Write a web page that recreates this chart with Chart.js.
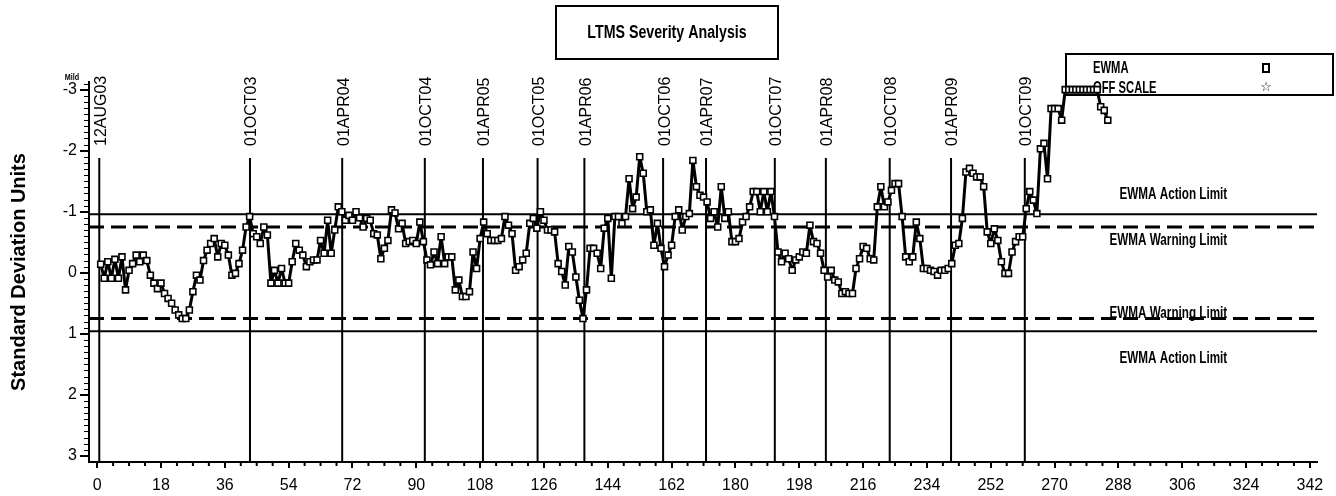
<!DOCTYPE html>
<html><head><meta charset="utf-8">
<script src="https://cdn.jsdelivr.net/npm/chart.js@4"></script>
<style>html,body{margin:0;padding:0;background:#fff;overflow:hidden}canvas{display:block}</style>
</head><body>
<canvas id="c" width="1336" height="496"></canvas>
<script>
// EWMA values (standard deviation units) for test sequence 1..285
const ewmaValues = [
  -0.14, 0.09, -0.18, 0.09, -0.22, 0.09, -0.26, 0.28, -0.04, -0.15,
  -0.29, -0.18, -0.29, -0.2, 0.04, 0.17, 0.26, 0.17, 0.34, 0.42,
  0.5, 0.61, 0.69, 0.75, 0.75, 0.61, 0.31, 0.04, 0.12, -0.2,
  -0.37, -0.48, -0.56, -0.26, -0.48, -0.45, -0.29, 0.04, 0.01, -0.15,
  -0.37, -0.75, -0.92, -0.64, -0.59, -0.48, -0.75, -0.62, 0.17, -0.04,
  0.17, -0.07, 0.17, 0.17, -0.18, -0.48, -0.37, -0.29, -0.1, -0.18,
  -0.21, -0.21, -0.53, -0.32, -0.86, -0.32, -0.7, -1.08, -1.0, -0.86,
  -0.94, -0.86, -1.0, -0.9, -0.75, -0.89, -0.86, -0.64, -0.62, -0.23,
  -0.4, -0.53, -1.03, -0.98, -0.72, -0.81, -0.48, -0.51, -0.53, -0.48,
  -0.83, -0.51, -0.21, -0.13, -0.34, -0.15, -0.59, -0.15, -0.26, -0.26,
  0.28, 0.12, 0.39, 0.39, 0.31, -0.34, -0.07, -0.56, -0.83, -0.64,
  -0.53, -0.53, -0.53, -0.56, -0.92, -0.78, -0.64, -0.04, -0.1, -0.21,
  -0.32, -0.81, -0.89, -0.73, -1.0, -0.86, -0.7, -0.7, -0.67, -0.15,
  -0.02, 0.2, -0.43, -0.34, 0.07, 0.45, 0.75, 0.28, -0.4, -0.4,
  -0.32, -0.07, -0.73, -0.89, 0.09, -0.92, -0.92, -0.81, -0.92, -1.54,
  -1.05, -1.24, -1.9, -1.63, -1.0, -1.03, -0.45, -0.81, -0.4, -0.1,
  -0.29, -0.45, -0.92, -1.03, -0.7, -0.92, -0.97, -1.84, -1.41, -1.27,
  -1.24, -1.16, -0.89, -1.0, -0.75, -1.41, -0.89, -1.0, -0.51, -0.51,
  -0.56, -0.83, -0.92, -1.08, -1.33, -1.33, -1.0, -1.33, -1.0, -1.33,
  -0.92, -0.34, -0.18, -0.32, -0.23, -0.04, -0.21, -0.26, -0.34, -0.32,
  -0.78, -0.51, -0.48, -0.32, -0.04, 0.07, -0.04, 0.12, 0.15, 0.34,
  0.31, 0.34, 0.34, -0.07, -0.23, -0.43, -0.4, -0.23, -0.21, -1.08,
  -1.41, -1.08, -1.16, -1.35, -1.46, -1.46, -0.92, -0.26, -0.18, -0.26,
  -0.83, -0.56, -0.07, -0.07, -0.04, -0.02, 0.04, -0.04, -0.04, -0.07,
  -0.15, -0.45, -0.48, -0.89, -1.65, -1.71, -1.63, -1.57, -1.57, -1.41,
  -0.67, -0.48, -0.72, -0.53, -0.18, 0.01, 0.01, -0.34, -0.51, -0.59,
  -0.59, -1.05, -1.33, -1.19, -0.97, -2.03, -2.12, -1.54, -2.69, -2.69,
  -2.69, -2.5, -3, -3, -3, -3, -3, -3, -3, -3,
  -3, -3, -2.72, -2.66, -2.5
];
const testIndex = ewmaValues.map((_, i) => i + 1);

// Calendar reference lines (test sequence where each date starts)
const dateLabels = ['12AUG03','01OCT03','01APR04','01OCT04','01APR05','01OCT05','01APR06',
                    '01OCT06','01APR07','01OCT07','01APR08','01OCT08','01APR09','01OCT09'];
const dateIndex  = [0.6, 43.1, 69.1, 92.4, 108.8, 124.2, 137.4, 159.6, 171.7, 191.1, 205.5, 223.5, 240.8, 261.6];

// Control limits
const actionLimits  = [-0.96, 0.96];
const warningLimits = [-0.75, 0.75];
const limitLabels = ['EWMA Action Limit', 'EWMA Warning Limit'];

// Axis ranges
const xRange = [-2.3, 344];
const yRange = [-3.125, 3.1];
const dateLineTop = -1.88;

const BLACK = '#000';
const SANS = '"Liberation Sans", Arial, sans-serif';

const datasets = [];
datasets.push({
  label: 'EWMA',
  data: testIndex.map((x, i) => ({ x, y: ewmaValues[i] })),
  borderColor: BLACK, borderWidth: 3, tension: 0, borderJoinStyle: 'round',
  pointStyle: 'rect', pointRadius: 4.2, pointBackgroundColor: '#fff',
  pointBorderColor: BLACK, pointBorderWidth: 1.6
});
actionLimits.forEach(v => datasets.push({
  data: [{ x: xRange[0], y: v }, { x: xRange[1], y: v }],
  borderColor: BLACK, borderWidth: 2, pointRadius: 0
}));
warningLimits.forEach(v => datasets.push({
  data: [{ x: xRange[0], y: v }, { x: xRange[1], y: v }],
  borderColor: BLACK, borderWidth: 3, borderDash: [15, 7], pointRadius: 0
}));
dateIndex.forEach(d => datasets.push({
  data: [{ x: d, y: dateLineTop }, { x: d, y: yRange[1] }],
  borderColor: BLACK, borderWidth: 2, pointRadius: 0
}));

// draw condensed text (horizontal squeeze)
function narrowText(ctx, text, x, y, font, sx, align) {
  ctx.save();
  ctx.font = font;
  ctx.textAlign = align || 'center';
  ctx.textBaseline = 'middle';
  ctx.translate(x, y);
  ctx.scale(sx, 1);
  ctx.fillText(text, 0, 0);
  ctx.restore();
}

const decor = {
  id: 'decor',
  beforeDatasetsDraw(chart) {
    const { ctx, scales: { x, y } } = chart;
    ctx.save();
    ctx.fillStyle = BLACK; ctx.strokeStyle = BLACK;
    // legend box
    ctx.lineWidth = 2;
    ctx.strokeRect(1066, 54, 267, 41);
    narrowText(ctx, 'EWMA', 1093, 68, 'bold 17px ' + SANS, 0.66, 'left');
    narrowText(ctx, 'OFF SCALE', 1093, 88, 'bold 17px ' + SANS, 0.66, 'left');
    ctx.lineWidth = 2;
    ctx.strokeRect(1263, 64, 6, 8);
    ctx.font = '13px "DejaVu Sans"';
    ctx.textAlign = 'center'; ctx.textBaseline = 'middle';
    ctx.fillText('\u2606', 1266, 88);
    // limit labels
    const lf = 'bold 16px ' + SANS;
    const lx = x.getPixelForValue(303.5);
    narrowText(ctx, limitLabels[0], lx, y.getPixelForValue(actionLimits[0]) - 20, lf, 0.73);
    narrowText(ctx, limitLabels[1], lx - 5, y.getPixelForValue(warningLimits[0]) + 14, lf, 0.73);
    narrowText(ctx, limitLabels[1], lx - 5, y.getPixelForValue(warningLimits[1]) - 5, lf, 0.73);
    narrowText(ctx, limitLabels[0], lx, y.getPixelForValue(actionLimits[1]) + 27, lf, 0.73);
    ctx.restore();
  },
  afterDraw(chart) {
    const { ctx, scales: { x, y }, chartArea } = chart;
    ctx.save();
    ctx.fillStyle = BLACK; ctx.strokeStyle = BLACK;
    // minor ticks y
    ctx.lineWidth = 1;
    for (let k = -31; k <= 31; k++) {
      if (k % 10 === 0) continue;
      const py = Math.round(y.getPixelForValue(k / 10)) + 0.5;
      if (py < chartArea.top || py > chartArea.bottom) continue;
      ctx.beginPath(); ctx.moveTo(chartArea.left - 5, py); ctx.lineTo(chartArea.left, py); ctx.stroke();
    }
    // minor ticks x
    ctx.lineWidth = 2;
    for (let k = 0; k <= 76; k++) {
      if (k % 4 === 0) continue;
      const px = x.getPixelForValue(k * 4.5);
      ctx.beginPath(); ctx.moveTo(px, chartArea.bottom); ctx.lineTo(px, chartArea.bottom + 4); ctx.stroke();
    }
    // date labels
    ctx.font = '16px ' + SANS;
    ctx.textAlign = 'left'; ctx.textBaseline = 'middle';
    dateIndex.forEach((d, i) => {
      const px = x.getPixelForValue(d) + 2;
      ctx.save(); ctx.translate(px, y.getPixelForValue(dateLineTop) - 12); ctx.rotate(-Math.PI / 2);
      ctx.fillText(dateLabels[i], 0, 0); ctx.restore();
    });
    // title box
    ctx.lineWidth = 2;
    ctx.strokeRect(556, 6, 222, 53);
    narrowText(ctx, 'LTMS Severity Analysis', 667, 33, 'bold 18px ' + SANS, 0.79);
    // y axis title
    ctx.save(); ctx.translate(19, 272); ctx.rotate(-Math.PI / 2);
    ctx.font = 'bold 20px ' + SANS;
    ctx.textAlign = 'center'; ctx.textBaseline = 'middle';
    ctx.fillText('Standard Deviation Units', 0, 0); ctx.restore();
    // Mild
    narrowText(ctx, 'Mild', 72, 78, 'bold 9px ' + SANS, 0.8);
    ctx.restore();
  }
};

new Chart(document.getElementById('c'), {
  type: 'line',
  data: { datasets },
  options: {
    responsive: false, animation: false, devicePixelRatio: 1,
    layout: { padding: { top: 82, right: 19, left: 0, bottom: 0 } },
    plugins: { legend: { display: false }, tooltip: { enabled: false }, title: { display: false } },
    scales: {
      x: {
        type: 'linear', min: xRange[0], max: xRange[1],
        ticks: { stepSize: 18, includeBounds: false, autoSkip: false, maxRotation: 0, color: BLACK,
                 font: { family: SANS, size: 16 }, padding: 8 },
        grid: { drawOnChartArea: false, drawTicks: true, tickLength: 6, color: BLACK, lineWidth: 2 },
        border: { display: true, color: BLACK, width: 2 },
        afterFit(s) { s.height = 34; }
      },
      y: {
        type: 'linear', reverse: true, min: yRange[0], max: yRange[1],
        ticks: { stepSize: 1, includeBounds: false, color: BLACK,
                 font: { family: SANS, size: 16 }, padding: 3 },
        grid: { drawOnChartArea: false, drawTicks: true, tickLength: 9, color: BLACK, lineWidth: 2 },
        border: { display: true, color: BLACK, width: 2 },
        afterFit(s) { s.width = 89; }
      }
    }
  },
  plugins: [decor]
});
</script>
</body></html>
